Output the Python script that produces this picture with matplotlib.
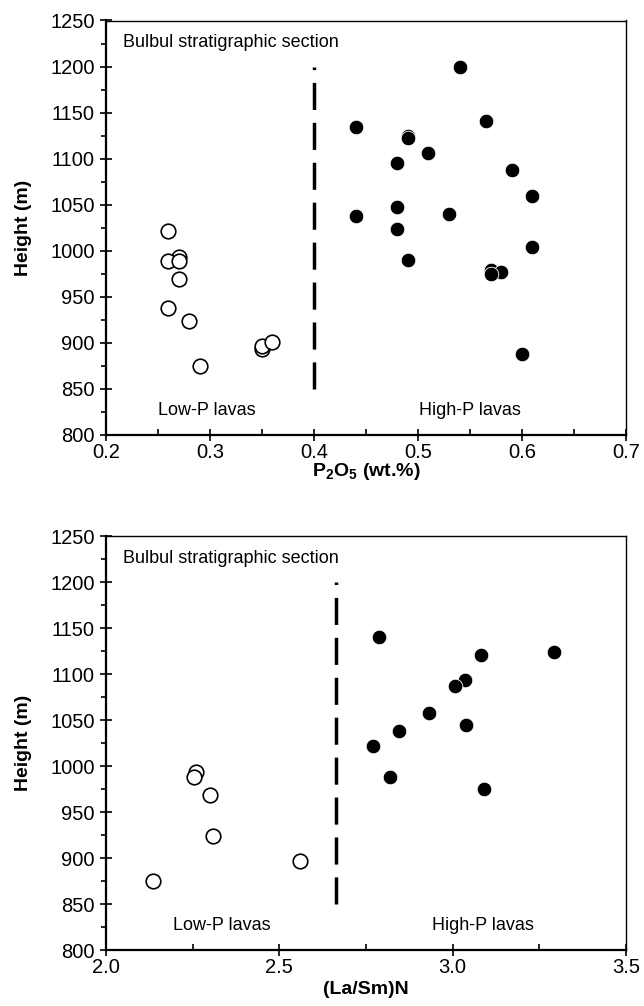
import matplotlib
matplotlib.use("Agg")
import matplotlib.pyplot as plt
from matplotlib.ticker import MultipleLocator, FormatStrFormatter

plt.rcParams['font.family'] = ['Liberation Sans', 'DejaVu Sans']
plt.rcParams['mathtext.fontset'] = 'custom'
plt.rcParams['mathtext.rm'] = 'Liberation Sans'
plt.rcParams['mathtext.bf'] = 'Liberation Sans:bold'

# Top panel: P2O5 vs height
p2o5_low = [0.26, 0.27, 0.26, 0.27, 0.27, 0.26, 0.28, 0.29, 0.35, 0.35, 0.36]
height_p2o5_low = [1021, 993, 989, 989, 969, 938, 924, 875, 893, 897, 901]
p2o5_high = [0.54, 0.565, 0.49, 0.49, 0.44, 0.51, 0.48, 0.59, 0.61, 0.48, 0.44,
             0.53, 0.48, 0.61, 0.49, 0.57, 0.58, 0.57, 0.60]
height_p2o5_high = [1200, 1141, 1125, 1122, 1134, 1106, 1095, 1088, 1059, 1047, 1038,
                    1040, 1024, 1004, 990, 979, 977, 975, 888]

# Bottom panel: (La/Sm)N vs height
lasm_low = [2.26, 2.255, 2.30, 2.31, 2.56, 2.135]
height_lasm_low = [993, 988, 969, 924, 897, 875]
lasm_high = [2.787, 3.082, 3.291, 3.036, 3.006, 2.932, 3.039, 2.844, 2.769, 2.819, 3.090]
height_lasm_high = [1140, 1121, 1124, 1094, 1087, 1058, 1045, 1038, 1022, 988, 975]

P2O5_DIVIDE = 0.4
LASM_DIVIDE = 2.664
DIVIDE_RANGE = [850, 1200]


def style_axes(ax, xmin, xmax, xmajor, xminor, xfmt):
    ax.set_xlim(xmin, xmax)
    ax.set_ylim(800, 1250)
    ax.xaxis.set_major_locator(MultipleLocator(xmajor))
    ax.xaxis.set_minor_locator(MultipleLocator(xminor))
    ax.xaxis.set_major_formatter(FormatStrFormatter(xfmt))
    ax.yaxis.set_major_locator(MultipleLocator(50))
    ax.yaxis.set_minor_locator(MultipleLocator(25))

    ax.tick_params(which='major', direction='inout', length=8, width=1.2,
                   labelsize=14.5, pad=2)
    ax.tick_params(axis='y', which='major', pad=4)
    ax.tick_params(axis='x', which='minor', direction='in', length=4, width=1.2)
    ax.tick_params(axis='y', which='minor', direction='out', length=3.5, width=1.2)

    for side in ['left', 'bottom']:
        ax.spines[side].set_linewidth(1.6)
    for side in ['top', 'right']:
        ax.spines[side].set_linewidth(1.0)

    ax.set_ylabel('Height (m)', fontsize=14, fontweight='bold')
    ax.yaxis.set_label_coords(-0.142, 0.5)

    ax.text(0.033, 0.946, 'Bulbul stratigraphic section', transform=ax.transAxes,
            fontsize=13, va='center', ha='left')


def draw_panel(ax, x_low, y_low, x_high, y_high, divide):
    ax.plot(x_low, y_low, linestyle='none', marker='o', markersize=10.5,
            markerfacecolor='white', markeredgecolor='black', markeredgewidth=1.2)
    ax.plot(x_high, y_high, linestyle='none', marker='o', markersize=10.5,
            markerfacecolor='black', markeredgecolor='white', markeredgewidth=0.6)
    line, = ax.plot([divide, divide], DIVIDE_RANGE, color='black', linewidth=2.5)
    line.set_dashes((7.8, 3.7))


fig = plt.figure(figsize=(6.44, 10.06), dpi=100)

ax1 = fig.add_axes([106 / 644, 1 - 435 / 1006, 520 / 644, 414.5 / 1006])
draw_panel(ax1, p2o5_low, height_p2o5_low, p2o5_high, height_p2o5_high, P2O5_DIVIDE)
style_axes(ax1, 0.2, 0.7, 0.1, 0.05, '%.1f')
ax1.set_xlabel(r'$\mathbf{P_2O_5}$ (wt.%)', fontsize=14, fontweight='bold')
ax1.xaxis.set_label_coords(0.5, -0.063)
ax1.text(0.1, 0.06, 'Low-P lavas', transform=ax1.transAxes, fontsize=13,
         va='center', ha='left')
ax1.text(0.601, 0.06, 'High-P lavas', transform=ax1.transAxes, fontsize=13,
         va='center', ha='left')

ax2 = fig.add_axes([106 / 644, 1 - 950 / 1006, 520 / 644, 414 / 1006])
draw_panel(ax2, lasm_low, height_lasm_low, lasm_high, height_lasm_high, LASM_DIVIDE)
style_axes(ax2, 2.0, 3.5, 0.5, 0.25, '%.1f')
ax2.set_xlabel('(La/Sm)N', fontsize=14, fontweight='bold')
ax2.xaxis.set_label_coords(0.5, -0.074)
ax2.text(0.128, 0.06, 'Low-P lavas', transform=ax2.transAxes, fontsize=13,
         va='center', ha='left')
ax2.text(0.627, 0.06, 'High-P lavas', transform=ax2.transAxes, fontsize=13,
         va='center', ha='left')

fig.savefig('out.png', dpi=100)
